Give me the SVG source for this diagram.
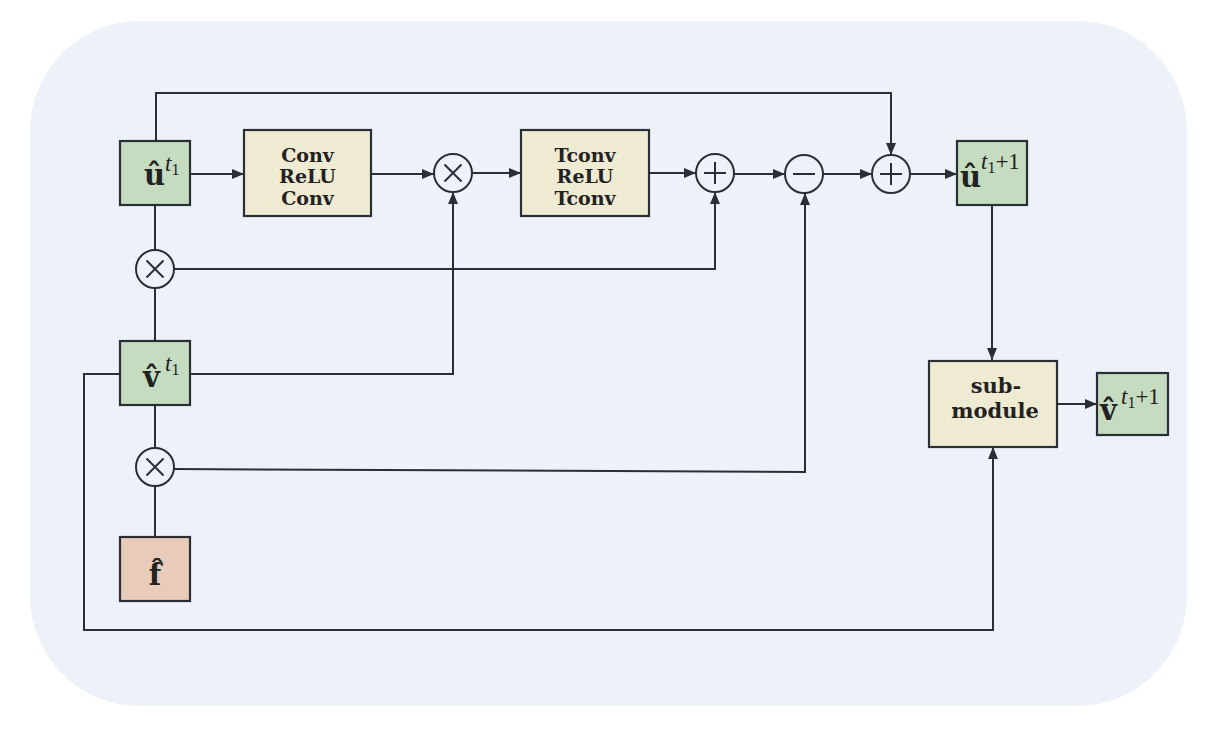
<svg xmlns="http://www.w3.org/2000/svg" width="1220" height="734" viewBox="0 0 1220 734">
<defs>
<marker id="arr" markerUnits="userSpaceOnUse" markerWidth="12" markerHeight="10" refX="12" refY="5" orient="auto">
<path d="M0,0 L12,5 L0,10 z" fill="#2a2e35"/>
</marker>
<style>
.box{stroke:#2a2e35;stroke-width:2.2}
.g{fill:#c6dcc0}
.b{fill:#efead2}
.p{fill:#e8cbb8}
.op{fill:none;stroke:#2a2e35;stroke-width:2}
.ln{fill:none;stroke:#2a2e35;stroke-width:2}
.a{marker-end:url(#arr)}
.bt{font-family:"DejaVu Serif",serif;font-weight:bold;fill:#222;text-anchor:middle}
.m{font-family:"DejaVu Serif",serif;font-weight:bold;font-size:29px;fill:#222}
.s{font-family:"Liberation Serif",serif;font-style:italic;font-size:23px;fill:#222}
.sub{font-family:"Liberation Serif",serif;font-style:normal;font-size:16px}
.n{font-family:"Liberation Serif",serif;font-style:normal;font-size:23px}
</style>
</defs>
<rect x="30" y="21" width="1157" height="685" rx="110" fill="#edf2f9"/>
<g id="connectors">
<path class="ln a" d="M190,174 H244"/>
<path class="ln a" d="M372,174 H434"/>
<path class="ln a" d="M472,173 H521"/>
<path class="ln a" d="M649,173 H696"/>
<path class="ln a" d="M734,174 H785"/>
<path class="ln a" d="M823,174 H872"/>
<path class="ln a" d="M910,174 H957"/>
<path class="ln a" d="M156,141 V93 H891 V155"/>
<path class="ln" d="M155,206 V250"/>
<path class="ln" d="M155,288 V341"/>
<path class="ln a" d="M174,269 H715 V192"/>
<path class="ln a" d="M190,374 H453 V192"/>
<path class="ln" d="M155,405 V448"/>
<path class="ln" d="M155,486 V537"/>
<path class="ln a" d="M174,469 L805,472 V193"/>
<path class="ln a" d="M120,374 H84 V630 H993 V447"/>
<path class="ln a" d="M992,205 V360"/>
<path class="ln a" d="M1057,404 H1097"/>
</g>
<g id="u">
<rect class="box g" x="120" y="141" width="70" height="64"/>
<text x="144" y="185" class="m">û</text>
<text x="165" y="171" class="s">t<tspan class="sub" dy="4">1</tspan></text>
</g>
<g id="conv">
<rect class="box b" x="244" y="130" width="127" height="86"/>
<text class="bt" font-size="19" x="307.5" y="162">Conv</text>
<text class="bt" font-size="19" x="307.5" y="183">ReLU</text>
<text class="bt" font-size="19" x="307.5" y="205">Conv</text>
</g>
<g id="mul1">
<circle class="op" cx="453" cy="173" r="19"/>
<path class="ln" d="M444.5,164.5 L461.5,181.5 M461.5,164.5 L444.5,181.5"/>
</g>
<g id="tconv">
<rect class="box b" x="521" y="130" width="128" height="86"/>
<text class="bt" font-size="19" x="585" y="162">Tconv</text>
<text class="bt" font-size="19" x="585" y="183">ReLU</text>
<text class="bt" font-size="19" x="585" y="205">Tconv</text>
</g>
<g id="plus1">
<circle class="op" cx="715" cy="173" r="19"/>
<path class="ln" d="M704,173 H726 M715,162 V184"/>
</g>
<g id="minus">
<circle class="op" cx="804" cy="174" r="19"/>
<path class="ln" d="M793,174 H815"/>
</g>
<g id="plus2">
<circle class="op" cx="891" cy="174" r="19"/>
<path class="ln" d="M880,174 H902 M891,163 V185"/>
</g>
<g id="u1">
<rect class="box g" x="957" y="141" width="70" height="64"/>
<text x="960" y="187" class="m">û</text>
<text x="981" y="169" class="s">t<tspan class="sub" dy="4">1</tspan><tspan class="n" dy="-4">+1</tspan></text>
</g>
<g id="mulL1">
<circle class="op" cx="155" cy="269" r="19"/>
<path class="ln" d="M146.5,260.5 L163.5,277.5 M163.5,260.5 L146.5,277.5"/>
</g>
<g id="v">
<rect class="box g" x="120" y="341" width="70" height="64"/>
<text x="143" y="387" class="m">v̂</text>
<text x="165" y="371" class="s">t<tspan class="sub" dy="4">1</tspan></text>
</g>
<g id="mulL2">
<circle class="op" cx="155" cy="467" r="19"/>
<path class="ln" d="M146.5,458.5 L163.5,475.5 M163.5,458.5 L146.5,475.5"/>
</g>
<g id="f">
<rect class="box p" x="120" y="537" width="70" height="64"/>
<text x="155" y="585" class="m" text-anchor="middle">f̂</text>
</g>
<g id="submodule">
<rect class="box b" x="929" y="361" width="128" height="86"/>
<text class="bt" font-size="21" x="996" y="393">sub-</text>
<text class="bt" font-size="21" x="995" y="418">module</text>
</g>
<g id="v1">
<rect class="box g" x="1097" y="373" width="71" height="62"/>
<text x="1100" y="420" class="m">v̂</text>
<text x="1121" y="404" class="s">t<tspan class="sub" dy="4">1</tspan><tspan class="n" dy="-4">+1</tspan></text>
</g>
</svg>
